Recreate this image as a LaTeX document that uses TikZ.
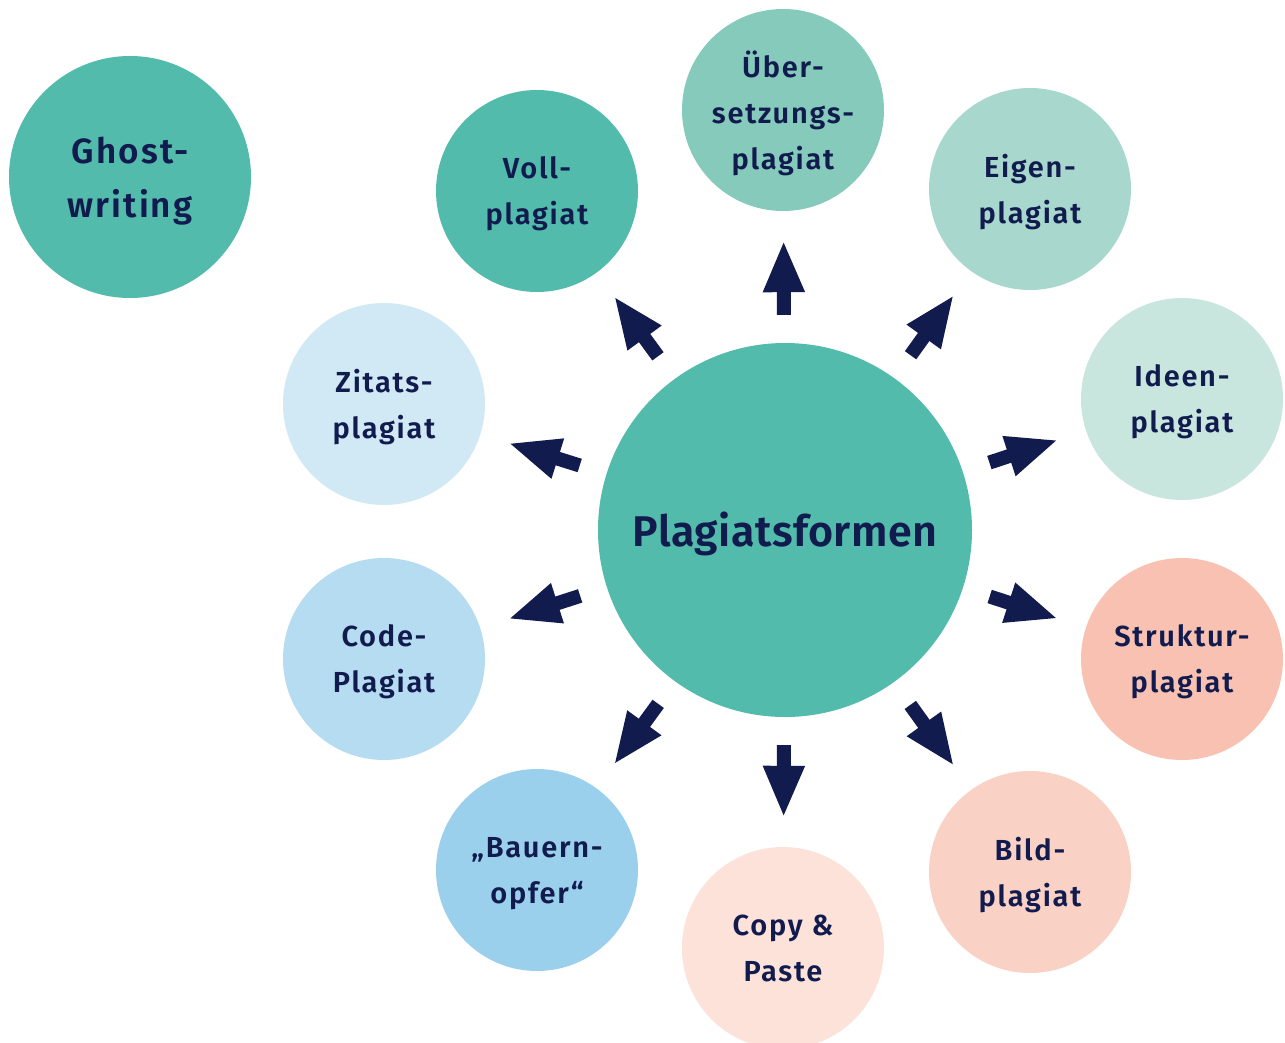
\documentclass[tikz,border=0pt]{standalone}
\usepackage{fontspec}
\setmainfont{Fira Sans}
\newfontfamily\fsb{Fira Sans SemiBold}[LetterSpace=1]
\newfontfamily\fsbs{Fira Sans SemiBold}[LetterSpace=6]
\usetikzlibrary{arrows.meta}
\definecolor{navy}{HTML}{111B4E}
\definecolor{teal}{HTML}{52BBAB}
\definecolor{cUeber}{HTML}{86CABB}
\definecolor{cEigen}{HTML}{A8D8CD}
\definecolor{cIdeen}{HTML}{C8E6DE}
\definecolor{cStruk}{HTML}{F8C1B1}
\definecolor{cBild}{HTML}{FAD1C5}
\definecolor{cCopy}{HTML}{FCE2D9}
\definecolor{cBauern}{HTML}{9BD0EC}
\definecolor{cCode}{HTML}{B6DCF1}
\definecolor{cZitat}{HTML}{D1E8F5}
\tikzset{
  bubble/.style={circle, minimum size=202pt, inner sep=0pt, align=center, text=navy,
    text depth=-3pt, font=\fsbs\fontsize{29}{46}\selectfont},
  hub/.style={circle, fill=teal, minimum size=374pt, inner sep=0pt, text=navy,
    text height=42pt, text depth=9pt, font=\fsb\fontsize{43}{50}\selectfont},
  bigbubble/.style={circle, minimum size=242pt, inner sep=0pt, align=center, text=navy,
    text depth=-4pt, font=\fsbs\fontsize{35}{54}\selectfont},
  arr/.style={draw=navy, line width=14pt, shorten <=28pt, shorten >=29pt,
    -{Triangle[width=38pt,length=52pt]}}
}
\begin{document}
\begin{tikzpicture}[x=1pt,y=-1pt]
\useasboundingbox[fill=white] (0,0) rectangle (1285,1043);
\node[hub] (c) at (785,530) {Plagiatsformen};
\node[bigbubble, fill=teal] (ghost) at (130,177) {Ghost-\\writing};
\node[bubble, fill=teal] (voll) at (537,191) {Voll-\\plagiat};
\node[bubble, fill=cUeber] (ueber) at (783,110) {Über-\\setzungs-\\plagiat};
\node[bubble, fill=cEigen] (eigen) at (1030,189) {Eigen-\\plagiat};
\node[bubble, fill=cIdeen] (ideen) at (1182,399) {Ideen-\\plagiat};
\node[bubble, fill=cStruk] (struk) at (1182,659) {Struktur-\\plagiat};
\node[bubble, fill=cBild] (bild) at (1030,872) {Bild-\\plagiat};
\node[bubble, fill=cCopy, text depth=-5pt] (copy) at (783,948) {Copy \&\\Paste};
\node[bubble, fill=cBauern] (bauern) at (537,870) {„Bauern-\\opfer“};
\node[bubble, fill=cCode] (code) at (384,659) {Code-\\Plagiat};
\node[bubble, fill=cZitat] (zitat) at (384,404) {Zitats-\\plagiat};
\foreach \t in {voll,ueber,eigen,ideen,struk,bild,copy,bauern,code,zitat}
  \draw[arr] (c) -- (\t);
\end{tikzpicture}
\end{document}
